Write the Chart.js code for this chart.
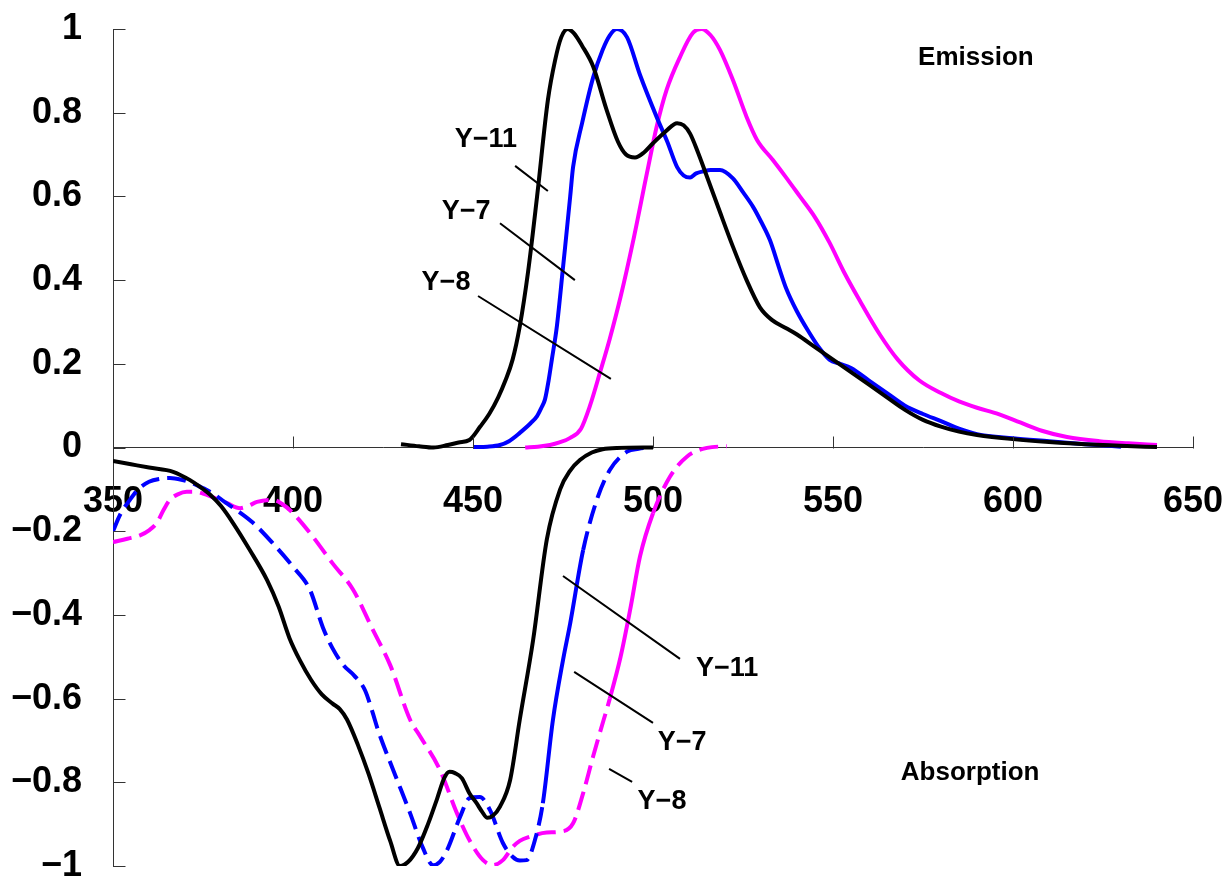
<!DOCTYPE html>
<html><head><meta charset="utf-8">
<style>html,body{margin:0;padding:0;background:#fff}</style>
<script src="https://cdn.jsdelivr.net/npm/chart.js@4.4.0/dist/chart.umd.min.js"></script>
</head><body>
<canvas id="c" width="1227" height="882"></canvas>
<script>
// ---- data (wavelength nm, normalized intensity) ----
const y11EmX = [430,435,439,443,446,449,452,454.5,457,459,461,463,465.3,467.8,470.8,472.8,474.5,476.3,478,480.3,483.4,487,490.3,492.5,495,497.5,500,503.5,506.7,508.5,510.3,512.5,515,518.5,522.2,526,529.7,533,537,540,545,550,555,560,565,570,575,580,585,590,600,610,620,630,640];
const y11EmY = [0.008,0.003,0.0,0.006,0.012,0.018,0.05,0.08,0.12,0.16,0.21,0.29,0.42,0.6,0.83,0.925,0.98,1.0,0.99,0.96,0.91,0.81,0.73,0.7,0.693,0.705,0.727,0.755,0.775,0.77,0.75,0.705,0.647,0.565,0.48,0.4,0.335,0.305,0.285,0.27,0.24,0.21,0.18,0.15,0.12,0.09,0.066,0.05,0.038,0.03,0.02,0.013,0.008,0.004,0.001];

const y7EmX = [450,454,457.5,460,463,466,467.8,469,470,471,471.9,473.3,475,475.6,477,477.8,480.3,483.4,486,488,490,492.8,496.4,501,504,506.7,508.5,510.3,512,514,516,518.6,522.2,525,527.8,530,532.5,535,537,540,543,546,549,552,555,560,565,570,575,580,585,590,600,610,620,630];
const y7EmY = [0.001,0.002,0.006,0.015,0.035,0.058,0.075,0.095,0.115,0.16,0.21,0.29,0.43,0.48,0.6,0.67,0.775,0.885,0.95,0.985,1.0,0.98,0.89,0.79,0.73,0.67,0.65,0.645,0.655,0.66,0.663,0.663,0.643,0.61,0.575,0.54,0.495,0.43,0.38,0.325,0.28,0.24,0.21,0.2,0.19,0.16,0.13,0.1,0.08,0.063,0.045,0.032,0.022,0.015,0.008,0.002];

const y8EmX = [464.5,468,471.4,474,477,480,482.5,485.3,488,491,494.4,498.3,501,503.8,507.5,511,513.5,516,518.6,522.2,526,528.9,533.3,537,540.8,545,549,553,557.5,563,568,574,580,585,590,596,602,608,615,624,632,640];
const y8EmY = [0,0.002,0.006,0.012,0.023,0.045,0.1,0.18,0.26,0.36,0.49,0.655,0.766,0.855,0.933,0.99,1.0,0.985,0.95,0.878,0.79,0.735,0.687,0.645,0.6,0.55,0.49,0.42,0.35,0.27,0.21,0.16,0.13,0.11,0.095,0.08,0.06,0.04,0.025,0.015,0.01,0.006];

const y11AbX = [350,355,360,366.7,371.4,374,377,380,383.3,388,392.8,396,399,402,405,408,411,413,415,418,421,424,427,429.7,432,434.7,437.5,440,442,443.5,445,446.9,449,451,452.5,454,455.5,457.5,460.3,463,466.7,470.5,474.2,477,479.7,483,486,490,500];
const y11AbY = [-0.032,-0.04,-0.048,-0.058,-0.078,-0.093,-0.113,-0.14,-0.18,-0.245,-0.317,-0.38,-0.455,-0.51,-0.555,-0.59,-0.612,-0.625,-0.65,-0.71,-0.78,-0.86,-0.94,-1.0,-0.99,-0.957,-0.9,-0.84,-0.79,-0.775,-0.778,-0.79,-0.826,-0.85,-0.87,-0.885,-0.88,-0.858,-0.795,-0.65,-0.46,-0.22,-0.1,-0.055,-0.03,-0.012,-0.004,-0.001,0];

const y7AbX = [350,352,354.7,357,360,363,365.8,369,372,375,377.8,381,384.4,388.9,394.4,400,404.7,408.3,411,414,417,420,422,423.6,427.8,432.5,436,438.9,440.8,442.8,446.4,449,451.9,454.7,458.3,461,463,464.9,467.2,469.4,472.2,475,477,480.6,484.4,488,492.8,496,499.2];
const y7AbY = [-0.2,-0.16,-0.125,-0.1,-0.082,-0.075,-0.073,-0.077,-0.085,-0.097,-0.11,-0.13,-0.15,-0.18,-0.229,-0.285,-0.34,-0.43,-0.48,-0.52,-0.545,-0.58,-0.63,-0.675,-0.77,-0.873,-0.955,-0.998,-0.99,-0.962,-0.883,-0.838,-0.835,-0.866,-0.945,-0.978,-0.987,-0.986,-0.938,-0.85,-0.651,-0.508,-0.42,-0.245,-0.125,-0.054,-0.01,-0.003,0];

const y8AbX = [350,354,357.5,360,362.2,364,365.8,368,370.5,373,375,378,381.7,385.3,387.5,390,394.4,397,400,405.5,411,416.7,422.2,427,432.5,435.3,440.8,445.5,449,452.8,455.5,458.3,461,463,465.8,470.5,474.2,477.8,480.6,483.3,485.3,488,491,493.6,496.4,500,504.7,509.4,515,520.5];
const y8AbY = [-0.226,-0.218,-0.21,-0.198,-0.18,-0.15,-0.125,-0.112,-0.106,-0.106,-0.11,-0.12,-0.133,-0.145,-0.14,-0.13,-0.125,-0.135,-0.157,-0.213,-0.277,-0.34,-0.436,-0.52,-0.65,-0.69,-0.77,-0.873,-0.938,-0.986,-0.998,-0.986,-0.955,-0.94,-0.93,-0.92,-0.918,-0.898,-0.826,-0.74,-0.68,-0.6,-0.5,-0.39,-0.26,-0.157,-0.07,-0.022,-0.001,0.003];

// wavelength ranges where the absorption traces are drawn solid (dashed elsewhere)
const y7SolidRange = [469.4, 480.6];
const y8SolidRange = [488, 500];

// axis
const xMin = 350, xMax = 650, xStep = 50;
const yMin = -1, yMax = 1, yStep = 0.2;

// annotations (data coordinates)
const noteText = ['Emission','Absorption','Y\u221211','Y\u22127','Y\u22128','Y\u221211','Y\u22127','Y\u22128'];
const noteX = [589.7,588.1,453.6,448.1,442.5,520.6,508.1,502.5];
const noteY = [0.931,-0.778,0.735,0.565,0.395,-0.529,-0.704,-0.845];
const leadX0 = [461.7,457.5,451.4,475,478.1,487.8];
const leadY0 = [0.673,0.536,0.362,-0.307,-0.536,-0.768];
const leadX1 = [470.8,478.3,488.3,507.5,500,494.2];
const leadY1 = [0.613,0.400,0.164,-0.505,-0.658,-0.799];

const FONT = "'Liberation Sans', Arial, sans-serif";
const zip = (xs, ys) => xs.map((x, i) => ({x, y: ys[i]}));
const DASH = [19, 8];
const dashOutside = r => ctx => (ctx.p0.parsed.x >= r[0] - 1e-6 && ctx.p1.parsed.x <= r[1] + 1e-6) ? [] : DASH;

function ds(label, xs, ys, color, seg) {
  const d = {label, data: zip(xs, ys), borderColor: color, backgroundColor: color,
    borderWidth: 4, pointRadius: 0, fill: false, cubicInterpolationMode: 'monotone',
    borderCapStyle: 'butt', borderJoinStyle: 'round'};
  if (seg) d.segment = {borderDash: seg};
  return d;
}

const axisPlugin = {
  id: 'axisExtras',
  afterDraw(chart) {
    const {ctx, scales: {x, y}} = chart;
    ctx.save();
    ctx.strokeStyle = '#333'; ctx.lineWidth = 1;
    const x0 = Math.round(x.getPixelForValue(xMin)) + 0.5;
    const y0 = Math.round(y.getPixelForValue(0)) + 0.5;
    ctx.beginPath();
    y.ticks.forEach(t => { const py = Math.round(y.getPixelForValue(t.value)) + 0.5; ctx.moveTo(x0, py); ctx.lineTo(x0 + 12, py); });
    x.ticks.forEach(t => { const px = Math.round(x.getPixelForValue(t.value)) + 0.5; ctx.moveTo(px, y0); ctx.lineTo(px, y0 - 12); });
    ctx.stroke();
    // leader lines
    ctx.strokeStyle = '#000'; ctx.lineWidth = 2;
    ctx.beginPath();
    leadX0.forEach((lx, i) => {
      ctx.moveTo(x.getPixelForValue(lx), y.getPixelForValue(leadY0[i]));
      ctx.lineTo(x.getPixelForValue(leadX1[i]), y.getPixelForValue(leadY1[i]));
    });
    ctx.stroke();
    // labels
    ctx.fillStyle = '#000'; ctx.textAlign = 'center'; ctx.textBaseline = 'middle';
    noteText.forEach((s, i) => {
      ctx.font = (i < 2 ? 'bold 26px ' : 'bold 27px ') + FONT;
      ctx.fillText(s, x.getPixelForValue(noteX[i]), y.getPixelForValue(noteY[i]));
    });
    ctx.restore();
  }
};

new Chart(document.getElementById('c'), {
  type: 'line',
  data: {datasets: [
    ds('Y-11 em', y11EmX, y11EmY, '#000000'),
    ds('Y-7 em', y7EmX, y7EmY, '#0000ff'),
    ds('Y-8 em', y8EmX, y8EmY, '#ff00ff'),
    ds('Y-11 abs', y11AbX, y11AbY, '#000000'),
    ds('Y-7 abs', y7AbX, y7AbY, '#0000ff', dashOutside(y7SolidRange)),
    ds('Y-8 abs', y8AbX, y8AbY, '#ff00ff', dashOutside(y8SolidRange)),
  ]},
  options: {
    responsive: false, animation: false, devicePixelRatio: 1,
    layout: {padding: {left: 0, right: 34, top: 29, bottom: 16}},
    plugins: {legend: {display: false}, tooltip: {enabled: false}},
    scales: {
      x: {type: 'linear', min: xMin, max: xMax, position: {y: 0},
        afterFit: s => { s.paddingLeft = 0; s.paddingRight = 0; s.paddingTop = 0; s.paddingBottom = 0; },
        grid: {display: false, drawTicks: false},
        border: {display: true, color: '#333', width: 1},
        ticks: {stepSize: xStep, color: '#000', padding: 33, maxRotation: 0,
          font: {family: FONT, size: 36, weight: 'bold'}}},
      y: {type: 'linear', min: yMin, max: yMax, position: 'left',
        afterFit: s => { s.width = 113; s.paddingTop = 0; s.paddingBottom = 0; },
        grid: {display: false, drawTicks: false},
        border: {display: true, color: '#333', width: 1},
        ticks: {stepSize: yStep, color: '#000', padding: 31,
          font: {family: FONT, size: 36, weight: 'bold'},
          callback: v => { const r = Math.round(v * 10) / 10; return r < 0 ? '\u2212' + Math.abs(r) : String(r); }}}
    }
  },
  plugins: [axisPlugin]
});
</script>
</body></html>
